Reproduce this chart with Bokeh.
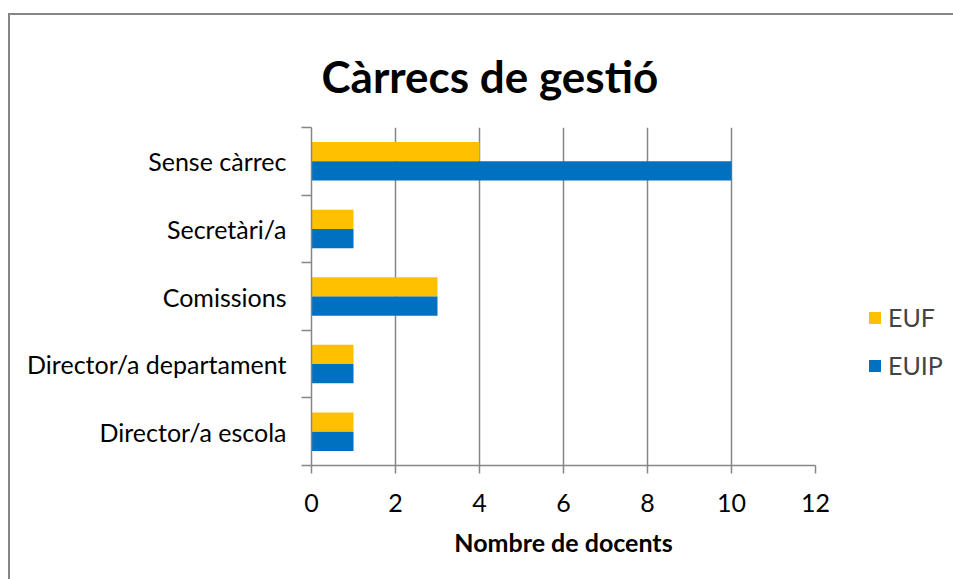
from bokeh.plotting import figure
from bokeh.models import ColumnDataSource, FixedTicker, Range1d, Legend, LegendItem
from bokeh.transform import dodge
from bokeh.embed import file_html
from bokeh.resources import INLINE

categories = ["Director/a escola", "Director/a departament", "Comissions", "Secretàri/a", "Sense càrrec"]
euf = [1, 1, 3, 1, 4]
euip = [1, 1, 3, 1, 10]
x_ticks = [0, 2, 4, 6, 8, 10, 12]

centers = [i + 0.5 for i in range(len(categories))]
bounds = [i for i in range(len(categories) + 1)]
src = ColumnDataSource(dict(y=centers, euf=euf, euip=euip))

FONT = "Lato"
GRAY = "#868686"

p = figure(width=945, height=575, output_backend="svg", toolbar_location=None,
           x_range=Range1d(0, 12), y_range=Range1d(0, 5),
           frame_width=504, frame_height=338,
           min_border_left=303, min_border_right=138, min_border_top=123, min_border_bottom=114,
           title="Càrrecs de gestió")
p.styles = {"margin-top": "4px", "margin-left": "8px",
            "background": ("linear-gradient(#868686,#868686) 0 9px / 100% 2px no-repeat, "
                           "linear-gradient(#868686,#868686) 0 9px / 2px 100% no-repeat, white")}
p.border_fill_alpha = 0
p.outline_line_color = None
p.background_fill_color = "white"

bh = 0.285
r1 = p.hbar(y=dodge("y", bh / 2, range=p.y_range), right="euf", left=0, height=bh, source=src,
            fill_color="#FFC000", line_color=None)
r2 = p.hbar(y=dodge("y", -bh / 2, range=p.y_range), right="euip", left=0, height=bh, source=src,
            fill_color="#0070C0", line_color=None)

p.title.text_font = FONT
p.title.text_font_size = "44px"
p.title.text_font_style = "bold"
p.title.text_color = "black"
p.title.align = "left"
p.title.offset = 10
p.title.standoff = 52

# x axis
p.xaxis.ticker = FixedTicker(ticks=x_ticks)
p.xaxis.axis_line_color = GRAY
p.xaxis.axis_line_width = 1.5
p.xaxis.major_tick_line_color = GRAY
p.xaxis.major_tick_line_width = 1.5
p.xaxis.major_tick_in = 0
p.xaxis.major_tick_out = 8
p.xaxis.minor_tick_line_color = None
p.xaxis.major_label_text_font = FONT
p.xaxis.major_label_text_font_size = "25px"
p.xaxis.major_label_text_color = "black"
p.xaxis.major_label_standoff = 20
p.xaxis.axis_label = "Nombre de docents"
p.xaxis.axis_label_text_font = FONT
p.xaxis.axis_label_text_font_size = "25px"
p.xaxis.axis_label_text_font_style = "bold"
p.xaxis.axis_label_text_color = "black"
p.xaxis.axis_label_standoff = 12

# y axis: labels at category centres, tick marks at boundaries
p.yaxis.ticker = FixedTicker(ticks=centers, minor_ticks=bounds)
p.yaxis.major_label_overrides = {c: n for c, n in zip(centers, categories)}
p.yaxis.axis_line_color = GRAY
p.yaxis.axis_line_width = 1.5
p.yaxis.major_tick_line_color = None
p.yaxis.major_tick_in = 0
p.yaxis.major_tick_out = 0
p.yaxis.minor_tick_line_color = GRAY
p.yaxis.minor_tick_line_width = 1.5
p.yaxis.minor_tick_in = 0
p.yaxis.minor_tick_out = 10
p.yaxis.major_label_text_font = FONT
p.yaxis.major_label_text_font_size = "25px"
p.yaxis.major_label_text_color = "black"
p.yaxis.major_label_standoff = 15

p.xgrid.ticker = FixedTicker(ticks=x_ticks)
p.xgrid.grid_line_color = GRAY
p.xgrid.grid_line_width = 1.5
p.ygrid.grid_line_color = None

legend = Legend(items=[LegendItem(label="EUF", renderers=[r1]),
                       LegendItem(label="EUIP", renderers=[r2])],
                location=(52, 85), border_line_color=None, background_fill_alpha=0,
                label_text_font=FONT, label_text_font_size="25px",
                glyph_width=15, glyph_height=15, spacing=18, label_standoff=6,
                margin=0, padding=0)
p.add_layout(legend, "right")

open("out.html", "w").write(file_html(p, INLINE))
